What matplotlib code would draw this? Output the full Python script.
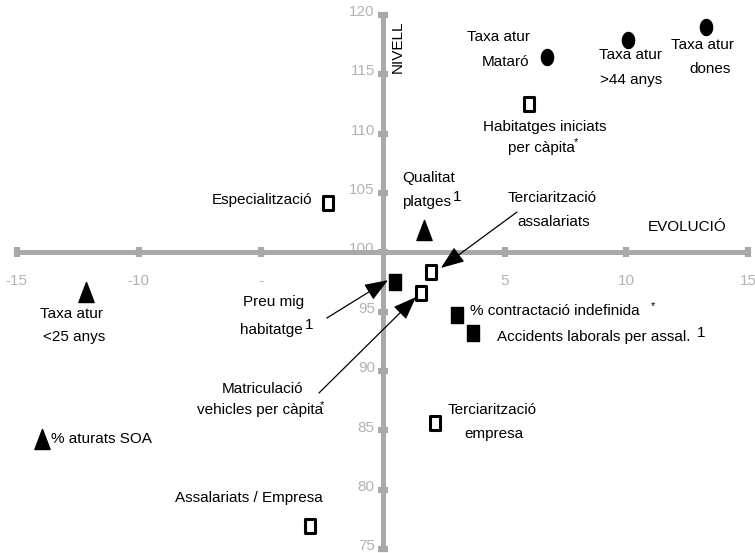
import numpy as np
import matplotlib
matplotlib.use("Agg")
import matplotlib.pyplot as plt
from matplotlib.path import Path

# ---------------- data ----------------
circle_names = ["Taxa atur Mataró", "Taxa atur >44 anys", "Taxa atur dones"]
circle_x = [6.75, 10.07, 13.28]
circle_y = [116.44, 117.89, 119.01]

open_sq_names = ["Habitatges iniciats per càpita", "Especialització",
                 "Terciarització assalariats", "Matriculació vehicles per càpita",
                 "Terciarització empresa", "Assalariats / Empresa"]
open_sq_x = [6.01, -2.23, 1.98, 1.56, 2.14, -2.98]
open_sq_y = [112.48, 104.14, 98.32, 96.55, 85.65, 76.95]

fill_sq_names = ["Preu mig habitatge", "% contractació indefinida",
                 "Accidents laborals per assal."]
fill_sq_x = [0.50, 3.06, 3.71]
fill_sq_y = [97.53, 94.73, 93.18]

tri_names = ["Qualitat platges", "Taxa atur <25 anys", "% aturats SOA"]
tri_x = [1.71, -12.16, -13.96]
tri_y = [101.89, 96.69, 84.25]

x_ticks = [-15, -10, -5, 5, 10, 15]
x_tick_labels = ["-15", "-10", "-", "5", "10", "15"]
y_ticks = [75, 80, 85, 90, 95, 100, 105, 110, 115, 120]
y_tick_labels = ["75", "80", "85", "90", "95", "100", "105", "110", "115", "120"]

# ---------------- style ----------------
FONT = "Liberation Sans"
plt.rcParams["font.family"] = [FONT, "DejaVu Sans"]
FS = 11
AXIS_C = "#a9a9a9"
TICK_C = "#b3b3b3"

fig = plt.figure(figsize=(7.55, 5.53), dpi=100)
ax = fig.add_axes([0, 0, 1, 1])
ax.axis("off")
ax.set_xlim(-15.69, 15.27)
ax.set_ylim(74.68, 121.26)

# custom marker shapes (slightly taller than wide)
rect_marker = Path([(-0.4, -0.5), (0.4, -0.5), (0.4, 0.5), (-0.4, 0.5), (-0.4, -0.5)],
                   [Path.MOVETO, Path.LINETO, Path.LINETO, Path.LINETO, Path.CLOSEPOLY])
tri_marker = Path([(-0.38, -0.5), (0.38, -0.5), (0.0, 0.5), (-0.38, -0.5)],
                  [Path.MOVETO, Path.LINETO, Path.LINETO, Path.CLOSEPOLY])
t = np.linspace(0, 2 * np.pi, 60)
ell_marker = Path(np.column_stack([0.38 * np.cos(t), 0.5 * np.sin(t)]))

# ---------------- axes cross ----------------
ax.plot([x_ticks[0], x_ticks[-1]], [100, 100], color=AXIS_C, lw=3.6,
        solid_capstyle="butt", zorder=2)
ax.plot([0, 0], [y_ticks[0], y_ticks[-1]], color=AXIS_C, lw=3.6,
        solid_capstyle="butt", zorder=2)
ax.plot(x_ticks, [100] * len(x_ticks), ls="none", marker="|", ms=7.5,
        mew=4.5, color=AXIS_C, zorder=2)
ax.plot([0] * len(y_ticks), y_ticks, ls="none", marker="_", ms=7.5,
        mew=4.5, color=AXIS_C, zorder=2)

for xv, lab in zip(x_ticks, x_tick_labels):
    ax.text(xv, 97.59, lab, ha="center", va="center", fontsize=FS,
            color=TICK_C, zorder=1)
for yv, lab in zip(y_ticks, y_tick_labels):
    ax.text(-0.32, yv + 0.25, lab, ha="right", va="center", fontsize=FS,
            color=TICK_C, zorder=1)

ax.text(10.88, 102.14, "EVOLUCIÓ", ha="left", va="center", fontsize=FS, color="black")
ax.text(0.63, 117.30, "NIVELL", ha="center", va="center", rotation=90,
        fontsize=FS, color="black")

# ---------------- markers ----------------
ax.scatter(circle_x, circle_y, marker=ell_marker, s=16 ** 2 * 0.52,
           color="black", zorder=4)
ax.scatter(open_sq_x, open_sq_y, marker=rect_marker, s=13.5 ** 2 * 0.52,
           facecolor="white", edgecolor="black", linewidths=2.2, zorder=4)
ax.scatter(fill_sq_x, fill_sq_y, marker=rect_marker, s=15 ** 2 * 0.52,
           color="black", zorder=4)
ax.scatter(tri_x, tri_y, marker=tri_marker, s=20 ** 2 * 0.52,
           color="black", zorder=4)

# ---------------- labels ----------------
def T(x, y, s, ha="center", size=FS):
    ax.text(x, y, s, ha=ha, va="center", fontsize=size, color="black", zorder=5)

T(6.04, 118.15, "Taxa atur", ha="right")
T(6.00, 116.04, "Mataró", ha="right")
T(10.18, 116.63, "Taxa atur")
T(10.18, 114.52, ">44 anys")
T(13.13, 117.47, "Taxa atur")
T(13.42, 115.45, "dones")
T(6.65, 110.56, "Habitatges iniciats")
T(6.53, 108.80, "per càpita")
T(7.94, 109.33, "*", size=8)
T(-2.89, 104.41, "Especialització", ha="right")
T(0.79, 106.27, "Qualitat", ha="left")
T(0.79, 104.25, "platges", ha="left")
T(2.90, 104.67, "1", ha="left")
T(6.94, 104.58, "Terciarització")
T(7.02, 102.56, "assalariats")
T(-4.46, 95.85, "Preu mig")
T(-4.58, 93.46, "habitatge")
T(-3.02, 93.88, "1")
T(-12.74, 94.81, "Taxa atur")
T(-12.65, 92.87, "<25 anys")
T(3.58, 95.06, "% contractació indefinida", ha="left")
T(11.08, 95.48, "*", size=8)
T(4.69, 92.87, "Accidents laborals per assal.", ha="left")
T(12.89, 93.20, "1", ha="left")
T(-4.91, 88.49, "Matriculació")
T(-5.03, 86.72, "vehicles per càpita")
T(-2.47, 87.14, "*", size=8)
T(4.48, 86.72, "Terciarització")
T(4.56, 84.70, "empresa")
T(-13.60, 84.28, "% aturats SOA", ha="left")
T(-2.45, 79.31, "Assalariats / Empresa", ha="right")

# ---------------- arrows ----------------
arrow_kw = dict(arrowstyle="-|>,head_length=1.45,head_width=0.55", color="black",
                lw=0.9, shrinkA=0, shrinkB=0, mutation_scale=10)
ax.annotate("", xy=(2.39, 98.69), xytext=(5.51, 103.40), arrowprops=arrow_kw, zorder=5)
ax.annotate("", xy=(0.22, 97.66), xytext=(-2.29, 94.47), arrowprops=arrow_kw, zorder=5)
ax.annotate("", xy=(1.37, 96.24), xytext=(-2.61, 88.16), arrowprops=arrow_kw, zorder=5)

fig.savefig("out.png", dpi=100)
